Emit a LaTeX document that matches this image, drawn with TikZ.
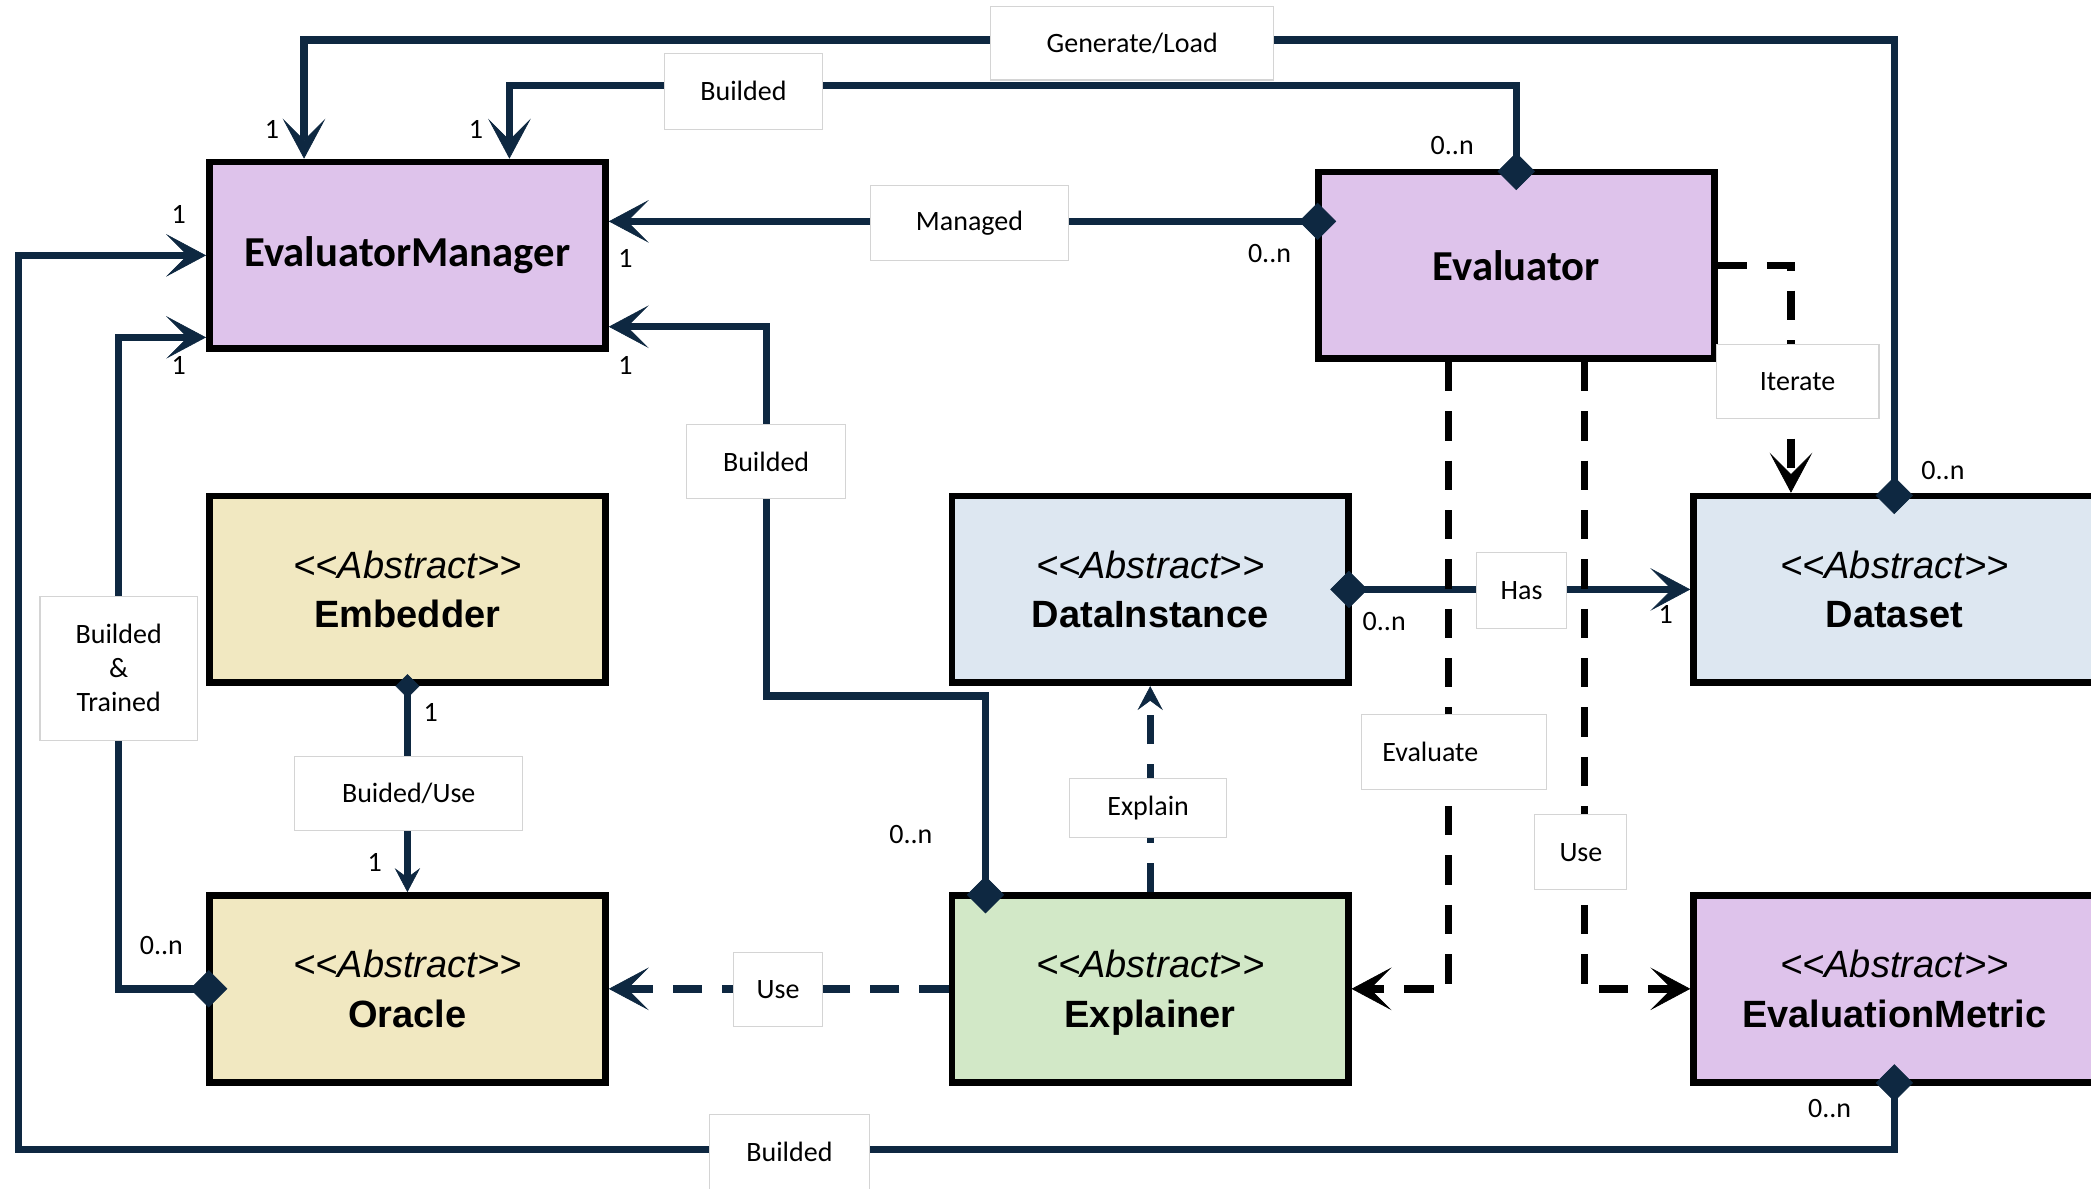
\documentclass[tikz,border=0pt]{standalone}
\usepackage{fontspec}
\setmainfont{Carlito}
\newfontfamily\clsfont{Liberation Sans}
\usetikzlibrary{arrows.meta}

\definecolor{navy}{HTML}{0E2841}
\definecolor{lav}{HTML}{DEC3EB}
\definecolor{sand}{HTML}{F1E8C1}
\definecolor{sky}{HTML}{DDE7F1}
\definecolor{mint}{HTML}{D2E8C7}
\definecolor{lblgray}{HTML}{D4D4D4}

\tikzset{
  Big/.tip={Stealth[length=30pt,width=32pt,inset=16pt,line width=0.5pt]},
  Small/.tip={Stealth[length=18pt,width=19pt,inset=7pt,line width=0.5pt]},
  Dia/.tip={Diamond[length=28pt,width=28pt,line width=0.5pt]},
  SDia/.tip={Diamond[length=18pt,width=18pt,line width=0.5pt]},
  cls/.style={draw=black, line width=5pt, minimum width=297pt,
    minimum height=140pt, inner sep=0pt, align=center},
  plaincls/.style={cls, font=\fontsize{32}{38}\selectfont\bfseries},
  abscls/.style={cls, font=\clsfont\fontsize{28.5}{37}\selectfont},
  conn/.style={draw=navy, line width=5.5pt},
  nvdash/.style={conn, dash pattern=on 22pt off 15pt},
  bkdash/.style={draw=black, line width=5.5pt, dash pattern=on 22pt off 15pt},
  lbl/.style={fill=white, draw=lblgray, line width=0.8pt, inner sep=0pt,
    align=center, font=\fontsize{21}{25.5}\selectfont},
  mult/.style={inner sep=0pt, font=\fontsize{21}{25}\selectfont},
}

\begin{document}
\begin{tikzpicture}[x=1pt,y=-1pt]
\fill[white] (0,0) rectangle (1568,891);
\useasboundingbox (0,0) rectangle (1568,891);

% classes
\node[plaincls, fill=lav] (em) at (305.5,191.5) {EvaluatorManager};
\node[plaincls, fill=lav] (ev) at (1137,199) {Evaluator};
\node[abscls, fill=sand] (emb) at (305.5,442) {{\itshape <{}<Abstract>{}>}\\{\bfseries Embedder}};
\node[abscls, fill=sky] (di) at (862.5,442) {{\itshape <{}<Abstract>{}>}\\{\bfseries DataInstance}};
\node[abscls, fill=sky, minimum width=301pt] (ds) at (1420.5,442) {{\itshape <{}<Abstract>{}>}\\{\bfseries Dataset}};
\node[abscls, fill=sand] (or) at (305.5,741.5) {{\itshape <{}<Abstract>{}>}\\{\bfseries Oracle}};
\node[abscls, fill=mint] (ex) at (862.5,741.5) {{\itshape <{}<Abstract>{}>}\\{\bfseries\smash{Explainer}}};
\node[abscls, fill=lav, minimum width=301pt] (evm) at (1420.5,741.5) {{\itshape <{}<Abstract>{}>}\\{\bfseries EvaluationMetric}};

% routing points
\coordinate (glc) at (228,30);
\coordinate (btc) at (382,64);
\coordinate (evL) at ([yshift=33pt]ev.west);
\coordinate (exT) at ([xshift=-123.5pt]ex.north);
\coordinate (emR) at ([yshift=-53.5pt]em.east);
\coordinate (bm) at (575,522);
\coordinate (emL) at ([yshift=-61.5pt]em.west);
\coordinate (btx) at (89,0);
\coordinate (bbc) at (14,862);
\coordinate (itx) at (1343,0);
\coordinate (evB1) at ([xshift=-51pt]ev.south);
\coordinate (evB2) at ([xshift=51pt]ev.south);

% associations
\draw[conn, Dia-Big] ([yshift=-16pt]ds.north) |- (glc) -- (glc |- em.north);
\draw[conn, Dia-Big] ([yshift=-16pt]ev.north) |- (btc) -- (btc |- em.north);
\draw[conn, Dia-Big] ([xshift=16pt]evL) -- (evL -| em.east);
\draw[conn, Dia-Big] ([yshift=-16pt]exT) |- (bm) |- (emR);
\draw[conn, Dia-Big] ([xshift=16pt]or.west) -| (btx |- emL) -- (emL);
\draw[conn, Dia-Big] ([yshift=16pt]evm.south) |- (bbc) |- (em.west);
\draw[conn, SDia-Small] ([yshift=9pt]emb.south) -- (or.north);
\draw[conn, Dia-Big] ([xshift=-16pt]di.east) -- (ds.west);

% dependencies
\draw[nvdash, -Big] (ex.west) -- (or.east);
\draw[nvdash, -Small] (ex.north) -- (di.south);
\draw[bkdash, -Big] (ev.east) -| (itx |- ds.north);
\draw[bkdash, -Big] (evB1) |- (ex.east);
\draw[bkdash, -Big] (evB2) |- (evm.west);

% relation labels
\node[lbl, minimum width=212pt, minimum height=55pt] (lgen) at (849,32.5) {Generate/Load};
\node[lbl, minimum width=119pt, minimum height=57pt] (lbt) at (557.5,68.5) {Builded};
\node[lbl, minimum width=148pt, minimum height=56pt] (lman) at (727,167) {Managed};
\node[lbl, minimum width=119pt, minimum height=56pt] (lbm) at (574.5,346) {Builded};
\node[lbl, minimum width=118pt, minimum height=108pt] (lbtr) at (89,501) {Builded\\\&\\Trained};
\node[lbl, minimum width=171pt, minimum height=56pt] (lbu) at (306.5,595) {Buided/Use};
\node[lbl, minimum width=67pt, minimum height=56pt] (luse) at (583.5,742) {Use};
\node[lbl, minimum width=118pt, minimum height=44pt] (lexp) at (861,606) {Explain};
\node[lbl, minimum width=68pt, minimum height=57pt] (lhas) at (1141,443) {Has};
\node[lbl, minimum width=122pt, minimum height=56pt] (lit) at (1348,286) {Iterate};
\node[lbl, minimum width=139pt, minimum height=56pt] (leva) at (1090.5,564) {Evaluate\hspace*{36pt}};
\node[lbl, minimum width=69pt, minimum height=56pt] (luse2) at (1185.5,639) {Use};
\node[lbl, minimum width=120pt, minimum height=56pt] (lbb) at (592,864) {Builded};

% multiplicities
\node[mult] (m1) at (204,97) {1};
\node[mult] (m2) at (357,97) {1};
\node[mult] (m3) at (134,161) {1};
\node[mult] (m4) at (134,274) {1};
\node[mult] (m5) at (469,194) {1};
\node[mult] (m6) at (469,274) {1};
\node[mult] (m7) at (1089,109) {0..n};
\node[mult] (m8) at (952,190) {0..n};
\node[mult] (m9) at (1457,353) {0..n};
\node[mult] (m10) at (1038,466) {0..n};
\node[mult] (m11) at (1249,461) {1};
\node[mult] (m12) at (323,534) {1};
\node[mult] (m13) at (281,647) {1};
\node[mult] (m14) at (121,709) {0..n};
\node[mult] (m15) at (683,626) {0..n};
\node[mult] (m16) at (1372,831) {0..n};
\end{tikzpicture}
\end{document}
